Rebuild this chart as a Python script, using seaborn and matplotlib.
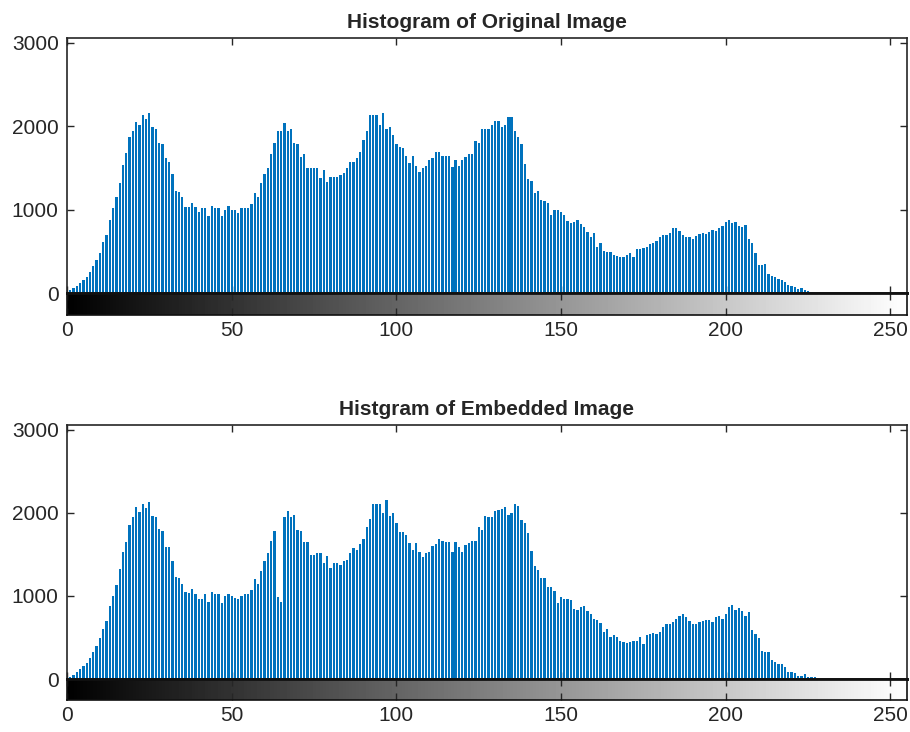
import numpy as np
import pandas as pd
import matplotlib
matplotlib.use('Agg')
import matplotlib.pyplot as plt
import seaborn as sns

# gray levels 0..255
levels = np.arange(256)

# histogram of the original image (counts per gray level)
orig_counts = [
    10, 36, 56, 84, 124, 156, 196, 256, 328, 396,
    484, 616, 696, 876, 1016, 1156, 1316, 1536, 1676, 1876,
    1944, 2056, 2016, 2136, 2084, 2156, 1996, 1964, 1804, 1784,
    1616, 1576, 1428, 1228, 1216, 1148, 1036, 1028, 1084, 1036,
    976, 1016, 1016, 924, 1044, 1016, 1016, 924, 996, 1044,
    996, 996, 964, 1016, 1016, 1016, 1064, 1196, 1156, 1316,
    1428, 1496, 1668, 1796, 1948, 1948, 2036, 1948, 1964, 1804,
    1788, 1636, 1668, 1504, 1504, 1504, 1504, 1384, 1476, 1336,
    1388, 1388, 1388, 1416, 1436, 1504, 1572, 1572, 1616, 1688,
    1836, 1948, 2132, 2132, 2132, 2020, 2156, 1964, 1996, 1896,
    1784, 1756, 1736, 1644, 1556, 1644, 1524, 1456, 1504, 1524,
    1596, 1616, 1688, 1688, 1644, 1644, 1644, 1516, 1596, 1524,
    1596, 1636, 1668, 1668, 1828, 1804, 1964, 1964, 1964, 2016,
    2068, 2068, 1996, 2016, 2116, 2116, 1948, 1876, 1784, 1548,
    1364, 1344, 1204, 1228, 1116, 1104, 1084, 936, 996, 996,
    976, 936, 868, 836, 856, 876, 828, 796, 736, 676,
    716, 556, 596, 508, 492, 492, 456, 444, 428, 428,
    456, 484, 436, 524, 524, 536, 556, 588, 604, 628,
    676, 696, 696, 724, 776, 776, 744, 696, 668, 668,
    644, 684, 708, 724, 708, 736, 756, 748, 776, 804,
    856, 876, 836, 856, 804, 796, 816, 644, 596, 476,
    336, 336, 348, 228, 204, 188, 164, 156, 136, 92,
    84, 68, 52, 60, 36, 20, 12, 0, 0, 0,
    0, 0, 0, 0, 0, 0, 0, 0, 0, 0,
    0, 0, 0, 0, 0, 0, 0, 0, 0, 0,
    0, 0, 0, 0, 0, 0,
]

# histogram of the embedded image
emb_counts = [
    10, 28, 48, 88, 116, 160, 188, 248, 328, 396,
    488, 608, 696, 876, 996, 1136, 1320, 1528, 1648, 1856,
    1948, 2068, 2008, 2108, 2060, 2136, 1968, 1948, 1808, 1780,
    1596, 1596, 1420, 1228, 1220, 1148, 1048, 1036, 1088, 1020,
    968, 968, 1020, 928, 1048, 1020, 1020, 916, 996, 1020,
    996, 980, 968, 996, 1020, 1020, 1076, 1208, 1148, 1300,
    1420, 1516, 1668, 1788, 990, 930, 1948, 2020, 1948, 1972,
    1796, 1788, 1648, 1648, 1488, 1488, 1516, 1516, 1396, 1480,
    1340, 1396, 1396, 1368, 1420, 1436, 1516, 1580, 1556, 1628,
    1688, 1836, 1928, 2108, 2108, 2108, 1996, 2156, 1968, 1996,
    1876, 1768, 1768, 1740, 1636, 1556, 1636, 1528, 1468, 1516,
    1528, 1608, 1628, 1688, 1668, 1648, 1648, 1528, 1648, 1596,
    1528, 1620, 1636, 1668, 1668, 1836, 1796, 1968, 1948, 1956,
    2020, 2036, 2048, 2068, 1980, 1996, 2108, 2088, 1916, 1876,
    1756, 1548, 1356, 1316, 1220, 1220, 1108, 1108, 1060, 916,
    988, 968, 968, 948, 848, 836, 868, 876, 820, 780,
    728, 708, 676, 568, 608, 508, 528, 508, 460, 448,
    436, 448, 460, 460, 508, 420, 528, 540, 556, 548,
    568, 628, 668, 668, 688, 728, 756, 788, 748, 700,
    668, 660, 688, 700, 716, 716, 688, 748, 756, 728,
    788, 868, 888, 828, 860, 820, 756, 808, 588, 548,
    488, 340, 328, 328, 228, 208, 180, 180, 148, 88,
    88, 76, 36, 36, 60, 20, 20, 20, 0, 0,
    0, 0, 0, 0, 0, 0, 0, 0, 0, 0,
    0, 0, 0, 0, 0, 0, 0, 0, 0, 0,
    0, 0, 0, 0, 0, 0,
]

titles = ['Histogram of Original Image', 'Histgram of Embedded Image']
xticks = [0, 50, 100, 150, 200, 250]
yticks = [0, 1000, 2000, 3000]

sns.set_theme(style='white')
plt.rcParams['font.family'] = ['Liberation Sans', 'DejaVu Sans']
txt = '#262626'
blue = '#0072BD'

fig = plt.figure(figsize=(9.1, 7.32), dpi=100)

# [hist axes rect, colorbar rect]
rects = [
    ([0.0736, 0.5997, 0.923, 0.3484], [0.0736, 0.5697, 0.923, 0.030]),
    ([0.0736, 0.0724, 0.923, 0.3470], [0.0736, 0.0437, 0.923, 0.0287]),
]

for (hr, cr), counts, title in zip(rects, [orig_counts, emb_counts], titles):
    ax = fig.add_axes(hr)
    df = pd.DataFrame({'level': levels, 'count': counts})
    sns.histplot(data=df, x='level', weights='count', discrete=True,
                 shrink=0.7, color=blue, alpha=1, edgecolor='none',
                 linewidth=0, ax=ax)
    ax.set_xlim(0, 255)
    ax.set_ylim(0, 3060)
    ax.set_xticks(xticks)
    ax.set_yticks(yticks)
    ax.set_xticklabels([])
    ax.set_xlabel('')
    ax.set_ylabel('')
    ax.tick_params(axis='x', direction='in', top=True, bottom=True,
                   length=5, width=1, color=txt)
    ax.tick_params(axis='y', direction='in', left=True, right=True,
                   length=5, width=1, color=txt, labelsize=15,
                   labelcolor=txt, pad=6)
    for s in ax.spines.values():
        s.set_color(txt)
        s.set_linewidth(1.2)
    ax.spines['bottom'].set_linewidth(2)
    ax.set_title(title, fontsize=15, fontweight='bold', color=txt, pad=7)

    cax = fig.add_axes(cr)
    cax.imshow(levels.reshape(1, -1), cmap='gray', aspect='auto',
               extent=[0, 255, 0, 1], vmin=0, vmax=255)
    cax.set_xlim(0, 255)
    cax.set_ylim(0, 1)
    cax.set_xticks(xticks)
    cax.set_yticks([])
    cax.tick_params(axis='x', direction='in', top=True, bottom=True,
                    length=5, width=1, color=txt, labelsize=15,
                    labelcolor=txt, pad=4)
    for s in cax.spines.values():
        s.set_color('#111111')
        s.set_linewidth(1.2)
    cax.spines['top'].set_linewidth(2)

fig.savefig('out.png', dpi=100)
